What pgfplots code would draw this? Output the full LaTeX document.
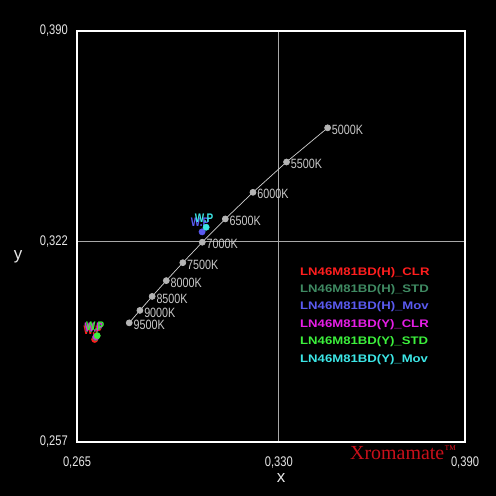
\documentclass[border=0pt]{standalone}
\usepackage{pgfplots}
\pgfplotsset{compat=1.18}
\usepackage{fontspec}
\setmainfont{Liberation Sans}
\newfontfamily\tickfont[FakeStretch=0.8]{Liberation Sans}
\newfontfamily\legfont[FakeStretch=1.2]{Liberation Sans}
\newfontfamily\brandfont{Liberation Serif}

\definecolor{cHCLR}{HTML}{FF1E1E}
\definecolor{cHSTD}{HTML}{3F8A62}
\definecolor{cHMOV}{HTML}{5A5AF0}
\definecolor{cYCLR}{HTML}{E61EE6}
\definecolor{cYSTD}{HTML}{3CF03C}
\definecolor{cYMOV}{HTML}{3CE6E6}
\definecolor{gridc}{HTML}{A8A8A8}
\definecolor{locline}{HTML}{D0D0D0}
\definecolor{locmark}{HTML}{B4B4B4}
\definecolor{loctext}{HTML}{C8C8C8}
\definecolor{ticktext}{HTML}{E6E6E6}
\definecolor{brand}{HTML}{C8101A}

% daylight locus, 5000K .. 9500K
\pgfplotstableread{
x        y        label
0.345741 0.358666 5000K
0.332502 0.347607 5500K
0.321691 0.337798 6000K
0.312779 0.329183 6500K
0.305358 0.321645 7000K
0.299091 0.315025 7500K
0.293772 0.309220 8000K
0.289211 0.304107 8500K
0.285265 0.299583 9000K
0.281824 0.295560 9500K
}\locus

\begin{document}
\begin{tikzpicture}
\fill[black] (0,0) rectangle (496bp,496bp);
\useasboundingbox (0,0) rectangle (496bp,496bp);
\begin{axis}[
    at={(77bp,54bp)}, anchor=south west,
    scale only axis, width=388bp, height=411bp,
    xmin=0.265, xmax=0.390, ymin=0.257, ymax=0.390,
    xtick={0.265,0.330,0.390}, ytick={0.257,0.322,0.390},
    xticklabels={{0,265},{0,330},{0,390}},
    yticklabels={{0,257},{0,322},{0,390}},
    major tick length=0pt,
    grid=major,
    major grid style={gridc, line width=0.7bp},
    axis line style={white, line width=1.3bp},
    every tick label/.append style={text=ticktext, inner sep=0pt,
        font=\tickfont\fontsize{14}{14}\selectfont},
    xticklabel style={yshift=-15bp},
    yticklabel style={xshift=-9bp},
    xlabel={x}, ylabel={y},
    xlabel style={at={(axis description cs:0.5258,-0.0876)}, anchor=center,
        text=ticktext, font=\fontsize{17}{17}\selectfont},
    ylabel style={at={(axis description cs:-0.152,0.450)}, anchor=center,
        rotate=-90, text=ticktext, font=\fontsize{17}{17}\selectfont},
    legend image code/.code={},
    legend style={at={(0.5747,0.4258)}, anchor=north west,
        draw=none, fill=none, inner sep=0pt, row sep=6.9bp,
        font=\legfont\bfseries\fontsize{11}{11}\selectfont,
        nodes={inner sep=0pt, text height=8bp, text depth=2.5bp, anchor=west}},
    clip=false,
]
\addplot[color=locline, line width=0.7bp, mark=*,
    mark options={fill=locmark, draw=locmark}, mark size=3bp,
    point meta=explicit symbolic, nodes near coords,
    nodes near coords style={anchor=west, text=loctext, inner sep=0pt,
        xshift=4bp, yshift=-2bp,
        font=\tickfont\fontsize{13.5}{13.5}\selectfont},
    forget plot] table[x=x, y=y, meta=label] {\locus};

\pgfplotsset{wp/.style={only marks, mark=*, mark size=3.2bp, color=#1,
    nodes near coords={W.P},
    nodes near coords style={anchor=south, inner sep=0pt, yshift=5bp,
        xshift=-2bp, text=#1,
        font=\tickfont\bfseries\fontsize{12.5}{12.5}\selectfont}}}

\addplot[wp=cHCLR] coordinates {(0.2707,0.2902)};
\addlegendentry[text=cHCLR]{LN46M81BD(H)\_CLR}
\addplot[wp=cHSTD] coordinates {(0.2710,0.2908)};
\addlegendentry[text=cHSTD]{LN46M81BD(H)\_STD}
\addplot[wp=cHMOV] coordinates {(0.3053,0.3250)};
\addlegendentry[text=cHMOV]{LN46M81BD(H)\_Mov}
\addplot[wp=cYCLR] coordinates {(0.2711,0.2911)};
\addlegendentry[text=cYCLR]{LN46M81BD(Y)\_CLR}
\addplot[wp=cYSTD] coordinates {(0.2715,0.2914)};
\addlegendentry[text=cYSTD]{LN46M81BD(Y)\_STD}
\addplot[wp=cYMOV] coordinates {(0.3066,0.3265)};
\addlegendentry[text=cYMOV]{LN46M81BD(Y)\_Mov}
\end{axis}
\node[anchor=base west, inner sep=0pt, text=brand,
    font=\brandfont\fontsize{20}{20}\selectfont] at (350bp,37bp)
    {Xromamate\raisebox{5.3bp}{\fontsize{12}{12}\selectfont ™}};
\end{tikzpicture}
\end{document}
